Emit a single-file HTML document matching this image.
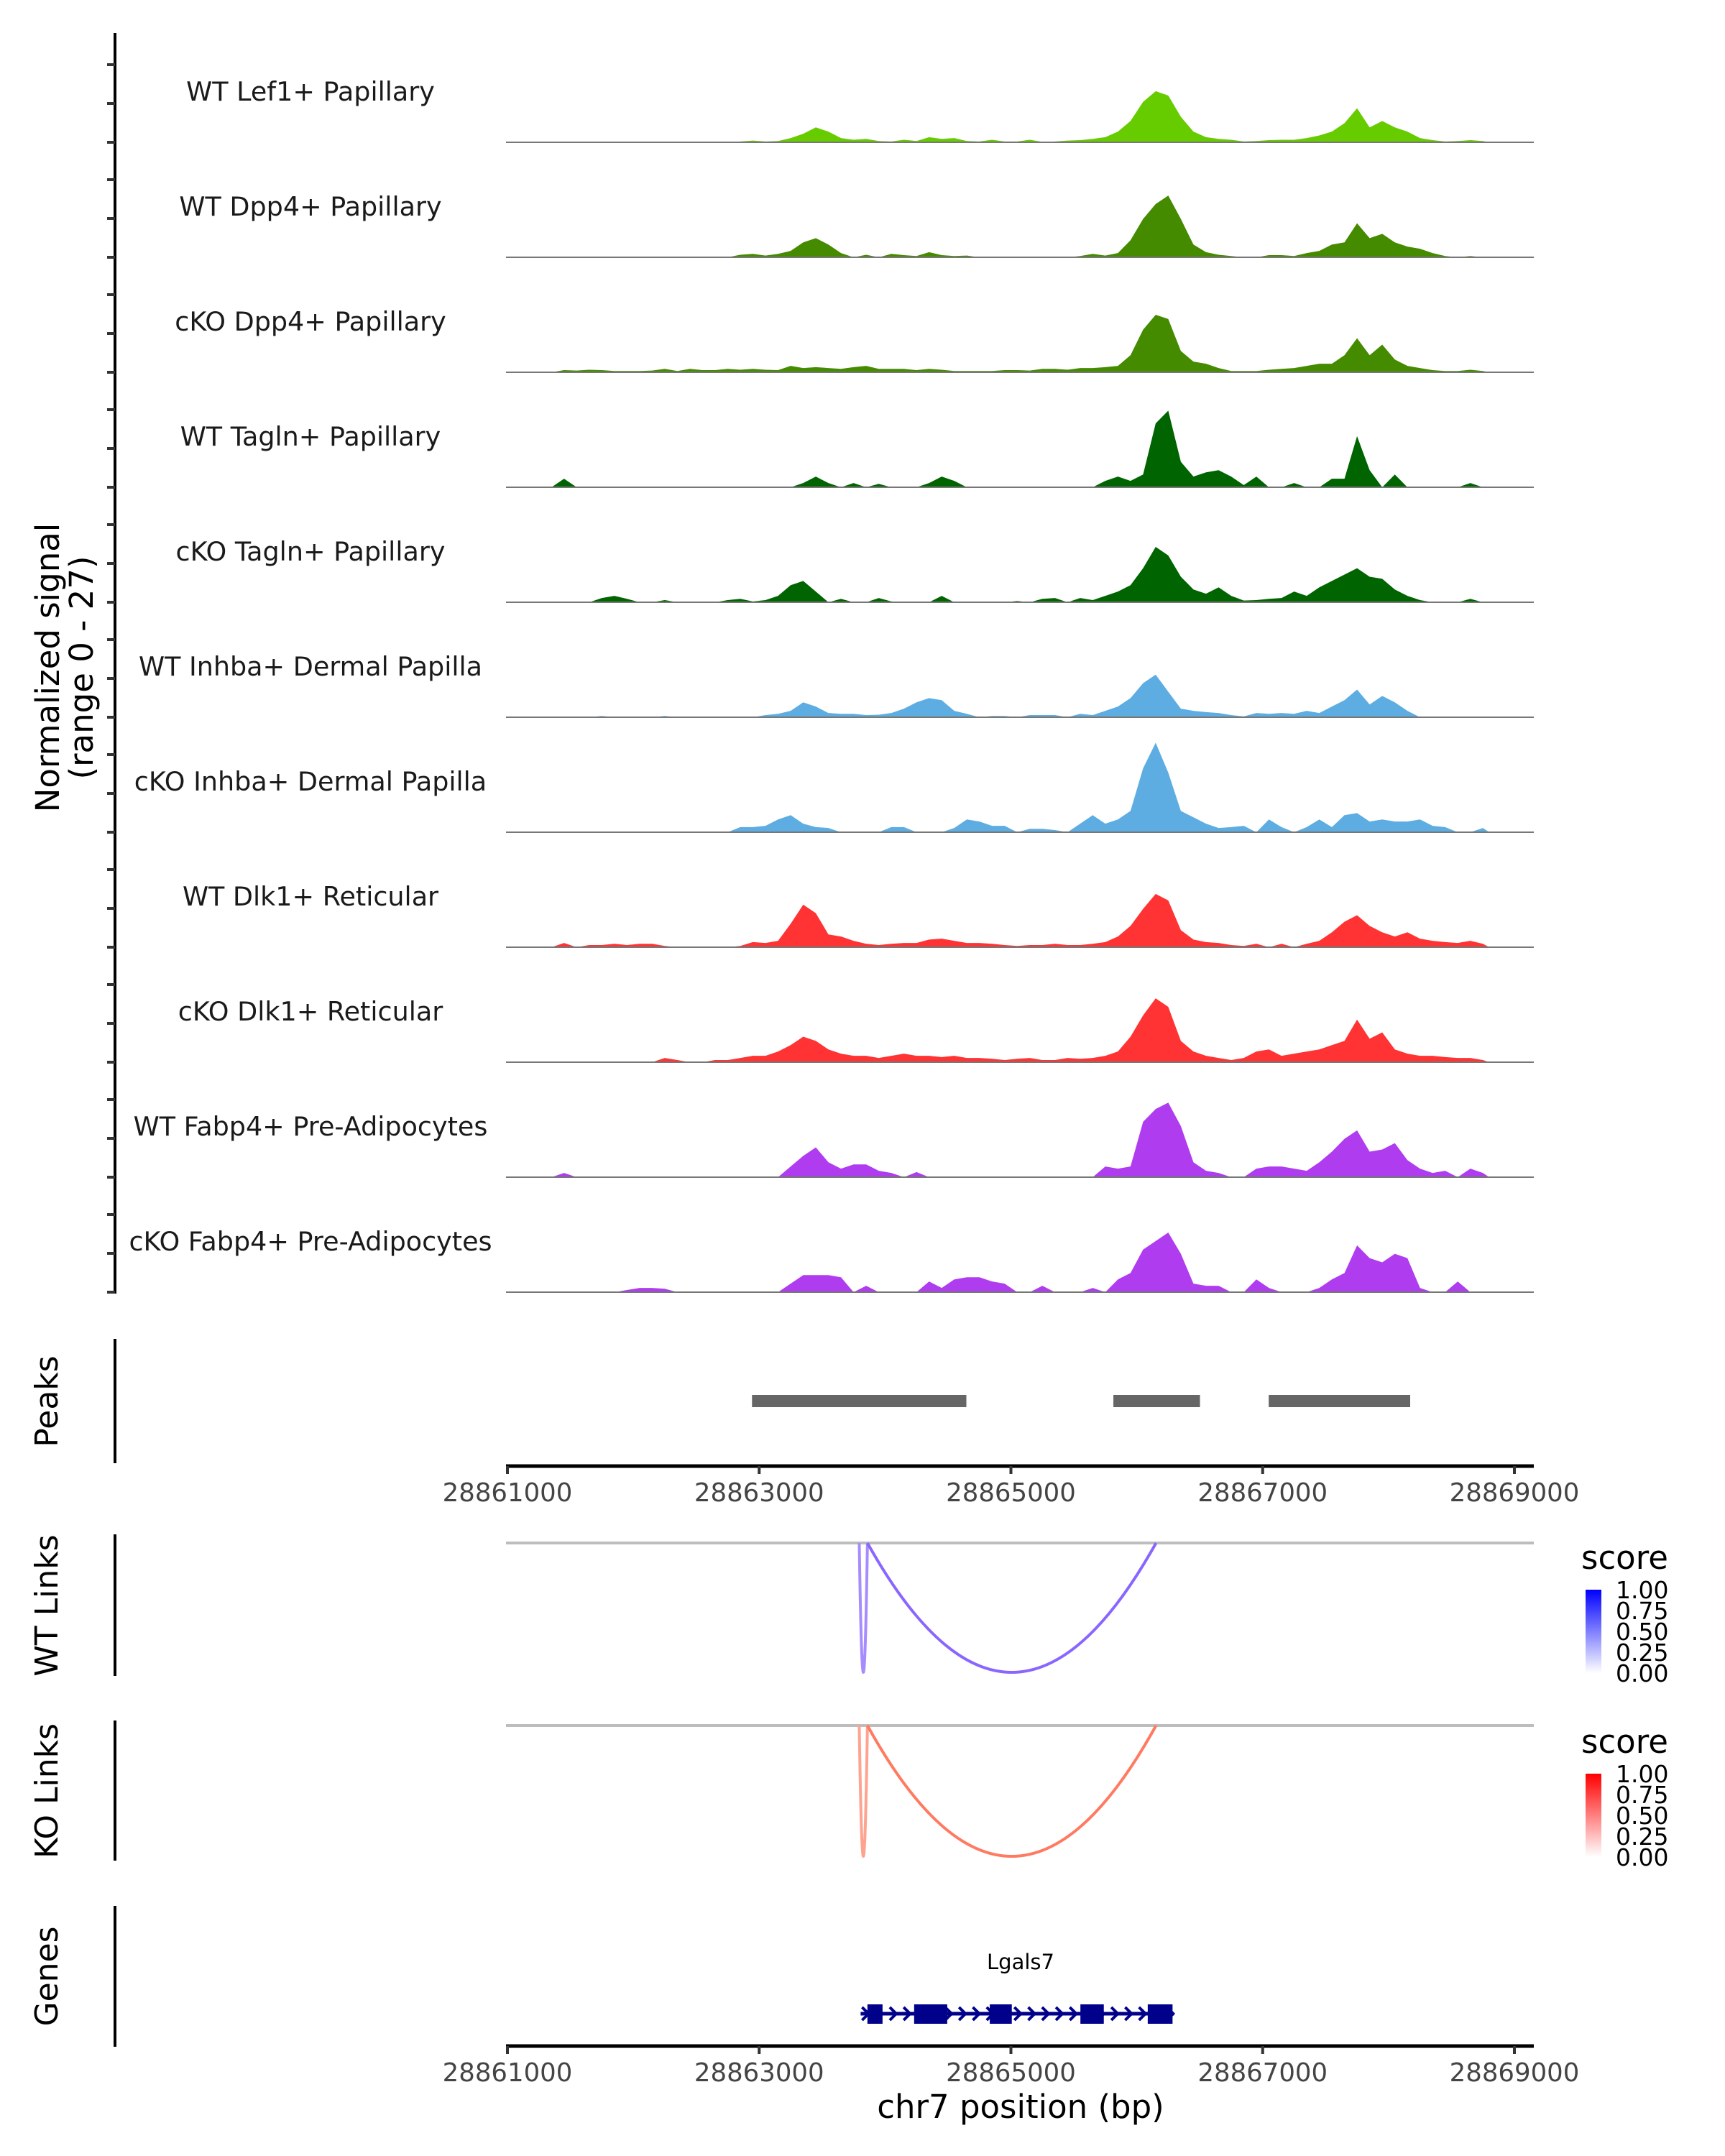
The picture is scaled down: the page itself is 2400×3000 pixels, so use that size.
<!DOCTYPE html>
<html><head><meta charset="utf-8"><style>
html,body{margin:0;padding:0;background:#fff;}
svg{display:block;font-family:"DejaVu Sans","Liberation Sans",sans-serif;}
</style></head><body>
<svg id="chart" width="2400" height="3000" viewBox="0 0 2400 3000" xmlns="http://www.w3.org/2000/svg">
<rect width="2400" height="3000" fill="#fff"/>
<g id="tracks"></g>
<line x1="160" y1="46" x2="160" y2="1800" stroke="#000" stroke-width="4"/>
<g id="yticks"></g>
<g font-size="45" fill="#000" text-anchor="middle">
<text transform="translate(82,929) rotate(-90)">Normalized signal</text>
<text transform="translate(129,929) rotate(-90)">(range 0 - 27)</text>
</g>
<line x1="160" y1="1863" x2="160" y2="2036" stroke="#000" stroke-width="4"/>
<text transform="translate(80,1950) rotate(-90)" font-size="44" text-anchor="middle">Peaks</text>
<g id="peaks"></g>
<g id="xaxis1"></g>
<line x1="160" y1="2135" x2="160" y2="2332" stroke="#000" stroke-width="4"/>
<text transform="translate(80,2234) rotate(-90)" font-size="44" text-anchor="middle">WT Links</text>
<line x1="160" y1="2394" x2="160" y2="2589" stroke="#000" stroke-width="4"/>
<text transform="translate(80,2492) rotate(-90)" font-size="44" text-anchor="middle">KO Links</text>
<g id="links"></g>
<defs>
<linearGradient id="gblue" x1="0" y1="1" x2="0" y2="0"><stop offset="0" stop-color="#ffffff"/><stop offset="1" stop-color="#0000ff"/></linearGradient>
<linearGradient id="gred" x1="0" y1="1" x2="0" y2="0"><stop offset="0" stop-color="#ffffff"/><stop offset="1" stop-color="#ff0000"/></linearGradient>
</defs>
<g>
<text x="2200" y="2183" font-size="45">score</text>
<rect x="2206" y="2212" width="22" height="116" fill="url(#gblue)"/>
<g font-size="33" fill="#000"><text x="2248" y="2224">1.00</text><text x="2248" y="2253">0.75</text><text x="2248" y="2282">0.50</text><text x="2248" y="2311">0.25</text><text x="2248" y="2340">0.00</text></g>
</g>
<g>
<text x="2200" y="2439" font-size="45">score</text>
<rect x="2206" y="2468" width="22" height="116" fill="url(#gred)"/>
<g font-size="33" fill="#000"><text x="2248" y="2480">1.00</text><text x="2248" y="2509">0.75</text><text x="2248" y="2538">0.50</text><text x="2248" y="2567">0.25</text><text x="2248" y="2596">0.00</text></g>
</g>
<line x1="160" y1="2652" x2="160" y2="2848" stroke="#000" stroke-width="4"/>
<text transform="translate(80,2750) rotate(-90)" font-size="44" text-anchor="middle">Genes</text>
<g id="genes"></g>
<g id="xaxis2"></g>
<text x="1420" y="2947" font-size="45" text-anchor="middle">chr7 position (bp)</text>
</svg>
<script>
const trackNames = ["WT Lef1+ Papillary","WT Dpp4+ Papillary","cKO Dpp4+ Papillary","WT Tagln+ Papillary","cKO Tagln+ Papillary","WT Inhba+ Dermal Papilla","cKO Inhba+ Dermal Papilla","WT Dlk1+ Reticular","cKO Dlk1+ Reticular","WT Fabp4+ Pre-Adipocytes","cKO Fabp4+ Pre-Adipocytes"];
const trackColors = ["#66cc00","#458b00","#458b00","#006400","#006400","#5dade2","#5dade2","#ff3333","#ff3333","#b03cf0","#b03cf0"];
const binStart = 28861000;
const binSize = 100;
const sigLef1 = [0,0,0,0,0,0,0,0,0,0, 0,0,0,0,0,0,0,0,0.2,0.4, 0.2,0.3,1.0,2.0,3.5,2.5,1.0,0.6,0.8,0.3, 0.2,0.6,0.3,1.2,0.8,1.0,0.3,0.2,0.6,0.2, 0.2,0.6,0.1,0.2,0.4,0.5,0.8,1.2,2.5,5.0, 9.5,12.0,11.0,6.0,2.5,1.2,0.8,0.6,0.2,0.3, 0.5,0.6,0.6,1.0,1.6,2.5,4.5,8.0,3.5,5.0, 3.5,2.5,1.0,0.5,0.2,0.3,0.5,0.3];
const sigWtDpp4 = [0,0,0,0,0,0,0,0,0,0, 0,0,0,0,0,0,0,0,0.6,0.8, 0.4,0.8,1.5,3.5,4.5,3.0,1.0,0,0.6,0, 0.8,0.5,0.3,1.2,0.5,0.3,0.4,0,0,0, 0,0,0,0,0,0.3,0.8,0.4,1.0,4.0, 9.0,12.5,14.5,9.0,3.0,1.2,0.6,0.3,0,0, 0.5,0.5,0.3,1.0,1.5,3.0,3.5,8.0,4.5,5.5, 3.5,2.5,2.0,1.0,0.3,0,0.3,0];
const sigKoDpp4 = [0,0,0,0,0.5,0.4,0.6,0.5,0.3,0.3, 0.3,0.4,0.8,0.3,0.8,0.5,0.5,0.8,0.6,0.8, 0.6,0.5,1.5,1.0,1.2,1.0,0.8,1.2,1.5,0.8, 0.8,0.8,0.5,0.8,0.6,0.3,0.3,0.3,0.3,0.5, 0.5,0.4,0.8,0.8,0.6,1.0,1.0,1.2,1.5,4.0, 10.0,13.5,12.5,5.0,2.5,2.0,1.0,0.3,0.3,0.3, 0.6,0.8,1.0,1.5,2.0,2.0,4.0,8.0,4.0,6.5, 3.0,1.5,1.0,0.5,0.3,0.3,0.6,0.3];
const sigWtTagln = [0,0,0,0,2.0,0,0,0,0,0, 0,0,0,0,0,0,0,0,0,0, 0,0,0,1.0,2.5,1.0,0,1.0,0,0.8, 0,0,0,1.0,2.5,1.5,0,0,0,0, 0,0,0,0,0,0,0,1.5,2.5,1.5, 3.0,15.0,18.0,6.0,2.5,3.5,4.0,2.5,0.5,2.5, 0,0,1.0,0,0,2.0,2.0,12.0,4.0,0, 3.0,0,0,0,0,0,1.0,0];
const sigKoTagln = [0,0,0,0,0,0,0,1.0,1.5,0.8, 0,0,0.5,0,0,0,0,0.5,0.8,0.2, 0.5,1.5,4.0,5.0,2.5,0,0.8,0,0,1.0, 0.2,0,0,0,1.5,0,0,0,0,0, 0.3,0,0.8,1.0,0,1.0,0.5,1.5,2.5,4.0, 8.0,13.0,11.0,6.0,3.0,2.0,3.5,1.5,0.4,0.5, 0.8,1.0,2.5,1.5,3.5,5.0,6.5,8.0,6.0,5.5, 3.0,1.5,0.5,0,0,0,0.8,0];
const sigWtInhba = [0,0,0,0,0,0,0,0.3,0,0, 0,0,0.3,0,0,0,0,0,0,0, 0.5,0.8,1.5,3.5,2.5,1.0,0.8,0.8,0.5,0.6, 1.0,2.0,3.5,4.5,4.0,1.5,0.8,0,0.3,0.3, 0,0.5,0.5,0.5,0,0.8,0.5,1.5,2.5,4.5, 8.0,10.0,6.0,2.0,1.5,1.2,1.0,0.5,0.2,1.0, 0.8,1.0,0.8,1.5,1.0,2.5,4.0,6.5,3.0,5.0, 3.5,1.5,0,0,0,0,0,0];
const sigKoInhba = [0,0,0,0,0,0,0,0,0,0, 0,0,0,0,0,0,0,0,1.2,1.2, 1.5,3.0,4.0,2.0,1.2,1.0,0,0,0,0, 1.2,1.2,0,0,0,1.0,3.0,2.5,1.5,1.5, 0,0.8,0.8,0.5,0,2.0,4.0,2.0,3.0,5.0, 15.0,21.0,14.0,5.0,3.5,2.0,1.0,1.2,1.5,0, 3.0,1.2,0,1.2,3.0,1.2,4.0,4.5,2.5,3.0, 2.5,2.5,3.0,1.5,1.2,0,0,1.0];
const sigWtDlk1 = [0,0,0,0,1.0,0,0.5,0.5,0.8,0.5, 0.8,0.8,0.3,0,0,0,0,0,0.3,1.2, 1.0,1.5,5.5,10.0,8.0,3.0,2.5,1.5,0.8,0.5, 0.8,1.0,1.0,1.8,2.0,1.5,1.0,1.0,0.8,0.5, 0.3,0.5,0.5,0.8,0.5,0.5,0.8,1.2,2.5,5.0, 9.0,12.5,11.0,4.0,1.8,1.2,1.0,0.5,0.3,0.8, 0,0.8,0,0.8,1.5,3.5,6.0,7.5,5.0,3.5, 2.5,3.5,2.0,1.5,1.2,1.0,1.5,0.8];
const sigKoDlk1 = [0,0,0,0,0,0,0,0,0,0, 0,0,1.0,0.5,0,0,0.5,0.5,1.0,1.5, 1.5,2.5,4.0,6.0,5.0,3.0,2.0,1.5,1.5,1.0, 1.5,2.0,1.5,1.5,1.2,1.5,1.0,1.0,0.8,0.5, 0.8,1.0,0.5,0.5,1.0,0.8,1.0,1.5,2.5,6.0, 11.0,15.0,13.0,5.0,2.5,1.5,1.0,0.5,1.0,2.5, 3.0,1.5,2.0,2.5,3.0,4.0,5.0,10.0,5.5,7.0, 3.0,2.0,1.5,1.5,1.2,1.0,1.0,0.5];
const sigWtFabp4 = [0,0,0,0,1.0,0,0,0,0,0, 0,0,0,0,0,0,0,0,0,0, 0,0,2.5,5.0,7.0,3.5,2.0,3.0,3.0,1.5, 1.0,0,1.2,0,0,0,0,0,0,0, 0,0,0,0,0,0,0,2.5,2.0,2.5, 13.0,16.0,17.5,12.0,3.5,1.5,1.0,0,0,2.0, 2.5,2.5,2.0,1.5,3.5,6.0,9.0,11.0,6.0,6.5, 8.0,4.0,2.0,1.0,1.5,0,2.0,1.0];
const sigKoFabp4 = [0,0,0,0,0,0,0,0,0,0.5, 1.0,1.0,0.8,0,0,0,0,0,0,0, 0,0,2.0,4.0,4.0,4.0,3.5,0,1.5,0, 0,0,0,2.5,1.0,3.0,3.5,3.5,2.5,2.0, 0,0,1.5,0,0,0,1.0,0,3.0,4.5, 10.0,12.0,14.0,9.0,2.0,1.5,1.5,0,0,3.0, 1.0,0,0,0,1.0,3.0,4.5,11.0,8.0,7.0, 9.0,8.0,1.0,0,0,2.5,0,0];
const signals = [sigLef1,sigWtDpp4,sigKoDpp4,sigWtTagln,sigKoTagln,sigWtInhba,sigKoInhba,sigWtDlk1,sigKoDlk1,sigWtFabp4,sigKoFabp4];
const yMax = 27;
const peakStarts = [28862943, 28865814, 28867048];
const peakEnds = [28864646, 28866502, 28868172];
const xTicks = [28861000, 28863000, 28865000, 28867000, 28869000];
const wtLinkStarts = [28863795, 28863860];
const wtLinkEnds = [28863860, 28866153];
const wtLinkScores = [0.45, 0.6];
const koLinkStarts = [28863795, 28863860];
const koLinkEnds = [28863860, 28866153];
const koLinkScores = [0.45, 0.65];
const geneStart = 28863806;
const geneEnd = 28866295;
const exonStarts = [28863860, 28864231, 28864832, 28865552, 28866087];
const exonEnds = [28863980, 28864494, 28865007, 28865738, 28866284];
const geneName = "Lgals7";

const NS = "http://www.w3.org/2000/svg";
const X0 = 706, X1 = 2107, BP0 = 28861000, BP1 = 28869000, XEND = 2134;
function xScale(bp){ return X0 + (bp - BP0) * (X1 - X0) / (BP1 - BP0); }
const trackH = 160, firstBase = 198;
function yScale(v, base){ return base - v / yMax * trackH; }
function mk(tag, attrs, parent){ const e = document.createElementNS(NS, tag); for (const k in attrs) e.setAttribute(k, attrs[k]); parent.appendChild(e); return e; }

const tracks = document.getElementById('tracks');
const yticks = document.getElementById('yticks');
signals.forEach((sig, i) => {
  const base = firstBase + i * trackH;
  const g = mk('g', {}, tracks);
  
  
  let d = 'M' + xScale(binStart) + ',' + base;
  sig.forEach((v, j) => {
    const xc = xScale(binStart + (j + 0.5) * binSize);
    d += ' L' + xc + ',' + yScale(v, base);
  });
  d += ' L' + xScale(binStart + sig.length * binSize) + ',' + base + ' Z';
  const p = mk('path', {d: d, fill: trackColors[i]}, g);
  
  
  const bl = mk('line', {x1: 704, x2: XEND, y1: base, y2: base, stroke: '#777', 'stroke-width': 2}, g);
  
  
  const t = mk('text', {x: 432, y: base - 58, 'font-size': 36.5, 'text-anchor': 'middle', fill: '#1a1a1a'}, g);
  t.textContent = trackNames[i];
  
  
  for (let k = 0; k < 3; k++) {
    const tk = mk('line', {x1: 149, x2: 160, y1: base - k * 54, y2: base - k * 54, stroke: '#333', 'stroke-width': 4}, yticks);
    
    
  }
});

const peaks = document.getElementById('peaks');
peakStarts.forEach((s, i) => {
  const r = mk('rect', {x: xScale(s), y: 1941, width: xScale(peakEnds[i]) - xScale(s), height: 17, fill: '#666'}, peaks);
  
  
});

function xAxis(gid, y){
  const g = document.getElementById(gid);
  const l = mk('line', {x1: X0 - 2, x2: XEND, y1: y, y2: y, stroke: '#000', 'stroke-width': 5}, g);
  
  
  xTicks.forEach(tv => {
    const tk = mk('line', {x1: xScale(tv), x2: xScale(tv), y1: y, y2: y + 11, stroke: '#333', 'stroke-width': 4}, g);
    
    
    const t = mk('text', {x: xScale(tv), y: y + 49, 'font-size': 35.5, 'text-anchor': 'middle', fill: '#444'}, g);
    t.textContent = tv;
    
    
  });
}
xAxis('xaxis1', 2040);
xAxis('xaxis2', 2847);

const links = document.getElementById('links');
function mix(c, s){ return 'rgb(' + c.map(v => Math.round(255 + (v - 255) * s)).join(',') + ')'; }
function drawLinks(starts, ends, scores, top, bottom, col){
  const gl = mk('line', {x1: 704, x2: XEND, y1: top, y2: top, stroke: '#bdbdbd', 'stroke-width': 4}, links);
  
  
  starts.forEach((s, i) => {
    const xa = xScale(s), xb = xScale(ends[i]);
    const cy = top + 2 * (bottom - top);
    const p = mk('path', {d: 'M' + xa + ',' + top + ' Q' + ((xa + xb) / 2) + ',' + cy + ' ' + xb + ',' + top, fill: 'none', stroke: mix(col, scores[i]), 'stroke-width': 4}, links);
    
    
  });
}
drawLinks(wtLinkStarts, wtLinkEnds, wtLinkScores, 2147, 2327, [60, 0, 255]);
drawLinks(koLinkStarts, koLinkEnds, koLinkScores, 2401, 2583, [255, 50, 10]);

const genes = document.getElementById('genes');
const gy = 2802;
const gl = mk('line', {x1: xScale(geneStart), x2: xScale(geneEnd), y1: gy, y2: gy, stroke: '#00008b', 'stroke-width': 5}, genes);


for (let bp = geneStart + 40; bp < geneEnd; bp += 110) {
  const x = xScale(bp);
  const a = mk('path', {d: 'M' + (x - 5) + ',' + (gy - 9) + ' L' + (x + 4) + ',' + gy + ' L' + (x - 5) + ',' + (gy + 9), fill: 'none', stroke: '#00008b', 'stroke-width': 4}, genes);
  
  
}
exonStarts.forEach((s, i) => {
  const r = mk('rect', {x: xScale(s), y: gy - 13, width: xScale(exonEnds[i]) - xScale(s), height: 27, fill: '#00008b'}, genes);
  
  
});
const gt = mk('text', {x: 1420, y: 2740, 'font-size': 29, 'text-anchor': 'middle', fill: '#000'}, genes);
gt.textContent = geneName;


</script>
</body></html>
